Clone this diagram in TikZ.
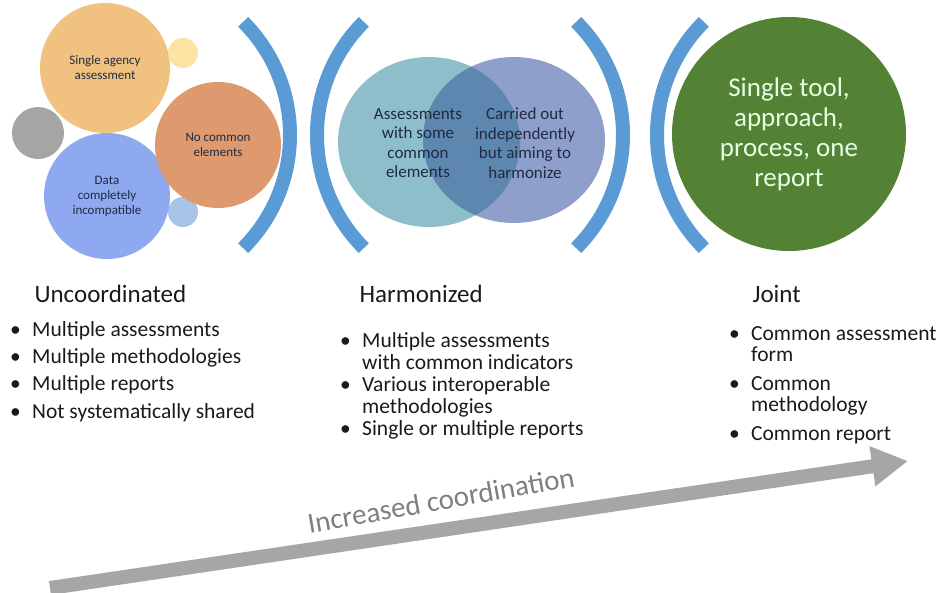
\documentclass[tikz,border=0pt]{standalone}
\usepackage{fontspec}
\setmainfont{Carlito}
\usetikzlibrary{positioning,arrows.meta}

\definecolor{agency}{HTML}{F1C17F}
\definecolor{paleyellow}{HTML}{FBE3A2}
\definecolor{midgray}{HTML}{A5A5A5}
\definecolor{salmon}{HTML}{DE9A6E}
\definecolor{periwinkle}{HTML}{8EA9F0}
\definecolor{paleblue}{HTML}{A7C3E6}
\definecolor{arcblue}{HTML}{5B9BD5}
\definecolor{vennleft}{HTML}{8FBECB}
\definecolor{vennright}{HTML}{8D9FCA}
\definecolor{vennmid}{HTML}{5D87AE}
\definecolor{jointgreen}{HTML}{548235}
\definecolor{arrowgray}{HTML}{A6A6A6}
\definecolor{labelgray}{HTML}{7F7F7F}
\definecolor{bubbletext}{HTML}{1F2A44}
\definecolor{bodytext}{HTML}{1A1A1A}

\newcommand\bul{\makebox[22pt][l]{\textbullet}}
\newcommand\gap{\hspace*{22pt}}

\begin{document}
\begin{tikzpicture}[x=1pt,y=-1pt,
    bubble/.style={circle,inner sep=0pt,align=center,text=bubbletext,font=\fontsize{13}{15}\selectfont},
    bracket/.style={line width=14pt,draw=arcblue},
    venntext/.style={align=center,text=bubbletext,font=\fontsize{17}{19.5}\selectfont},
    heading/.style={anchor=base west,text=bodytext,font=\fontsize{25}{30}\selectfont},
    bullets/.style={anchor=north west,inner sep=0pt,align=left,text=bodytext}]
    \useasboundingbox (0,0) rectangle (950,593);

    % uncoordinated bubbles
    \node[bubble,fill=agency,minimum size=130pt] (agency) at (105,68) {Single agency\\assessment};
    \node[circle,fill=paleyellow,minimum size=30pt] (dotyellow) at (183,53) {};
    \node[circle,fill=midgray,minimum size=52pt] (dotgray) at (38,133) {};
    \node[circle,fill=paleblue,minimum size=30pt] (dotblue) at (183,212) {};
    \node[bubble,fill=periwinkle,minimum size=126pt] (incompat) at (107,196) {Data\\completely\\incompatible};
    \node[bubble,fill=salmon,minimum size=126pt] (nocommon) at (218,145) {No common\\elements};

    % brackets
    \draw[bracket] (130,135) ++(-45:160) arc[start angle=-45,end angle=45,radius=160];
    \draw[bracket] (477,135) ++(135:160) arc[start angle=135,end angle=225,radius=160];
    \draw[bracket] (463,135) ++(-45:160) arc[start angle=-45,end angle=45,radius=160];
    \draw[bracket] (817,135) ++(135:160) arc[start angle=135,end angle=225,radius=160];

    % harmonized venn
    \fill[vennleft] (429,142) ellipse[x radius=91,y radius=85];
    \fill[vennright] (514,140) ellipse[x radius=91,y radius=83];
    \begin{scope}
        \clip (429,142) ellipse[x radius=91,y radius=85];
        \fill[vennmid] (514,140) ellipse[x radius=91,y radius=83];
    \end{scope}
    \node[venntext] (withsome) at (418,143) {Assessments\\with some\\common\\elements};
    \node[venntext] (aiming) at (525,143) {Carried out\\independently\\but aiming to\\harmonize};

    % joint
    \node[circle,fill=jointgreen,minimum size=234pt,align=center,text=white!90!green,
          font=\fontsize{27}{30}\selectfont] (single) at (789,134) {Single tool,\\approach,\\process, one\\report};

    % headings and lists
    \node[heading] (uncoord) at (31,303) {Uncoordinated};
    \node[bullets,font=\fontsize{21.5}{27.3}\selectfont] (uncoordlist) at (10,321)
        {\bul Multiple assessments\\
         \bul Multiple methodologies\\
         \bul Multiple reports\\
         \bul Not systematically shared};

    \node[heading] (harmon) at (356,303) {Harmonized};
    \node[bullets,font=\fontsize{21.5}{22}\selectfont] (harmonlist) at (340,332)
        {\bul Multiple assessments\\
         \gap with common indicators\\
         \bul Various interoperable\\
         \gap methodologies\\
         \bul Single or multiple reports};

    \node[heading] (joint) at (749,303) {Joint};
    \node[bullets,font=\fontsize{21.5}{21}\selectfont] (jointlist) at (729,326)
        {\bul Common assessment\\
         \gap form\\[8pt]
         \bul Common\\
         \gap methodology\\[8pt]
         \bul Common report};

    % coordination arrow
    \coordinate (tail) at (50,588);
    \coordinate (tip) at (908,461);
    \draw[line width=14pt,draw=arrowgray,-{Triangle[length=36pt,width=38pt]}] (tail) -- (tip);
    \node[rotate=10,text=labelgray,font=\fontsize{29}{32}\selectfont] (incr) at (441,500) {Increased coordination};
\end{tikzpicture}
\end{document}
